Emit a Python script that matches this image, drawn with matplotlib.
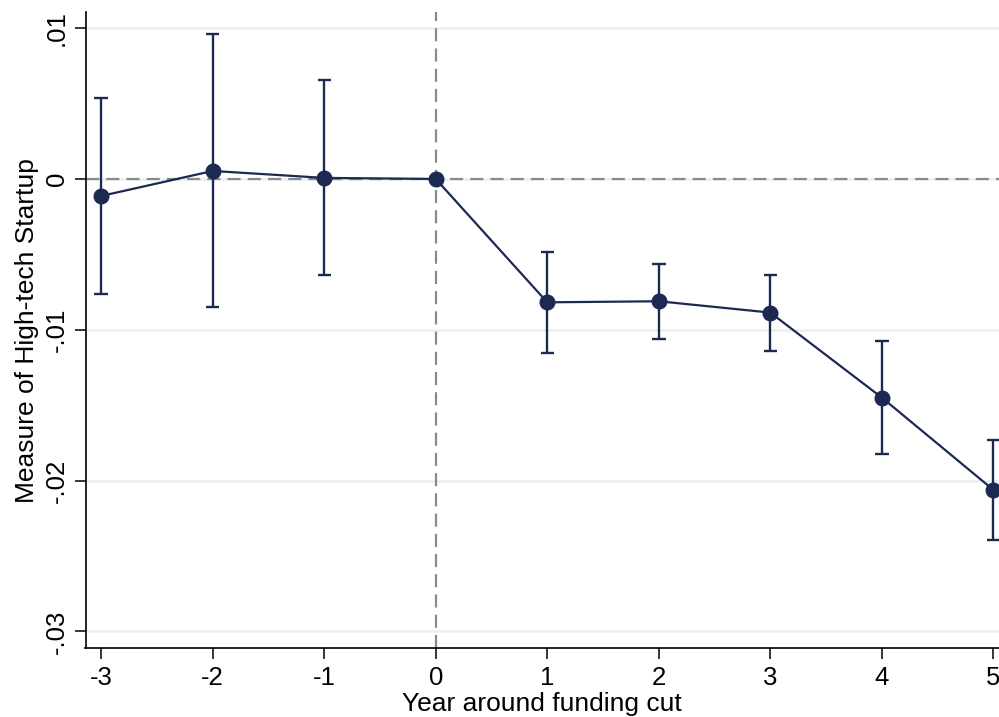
import matplotlib
matplotlib.use("Agg")
import matplotlib.pyplot as plt

years = [-3, -2, -1, 0, 1, 2, 3, 4, 5]
coef = [-0.00113, 0.00053, 0.00007, 0.0, -0.00818, -0.00811, -0.00886, -0.0145, -0.02062]
ci_hi = [0.00535, 0.00962, 0.00654, 0.0, -0.00486, -0.00564, -0.00634, -0.01074, -0.01731]
ci_lo = [-0.00761, -0.00851, -0.00637, 0.0, -0.01152, -0.01061, -0.01138, -0.01826, -0.02396]
yticks = [0.01, 0.0, -0.01, -0.02, -0.03]
ytick_labels = [".01", "0", "-.01", "-.02", "-.03"]
xticks = [-3, -2, -1, 0, 1, 2, 3, 4, 5]

plt.rcParams['font.family'] = ['Liberation Sans', 'DejaVu Sans']

W, H = 999, 717
fig = plt.figure(figsize=(W / 100, H / 100), dpi=100)
left, right, top, bottom = 85.5, 999, 12, 648.3
ax = fig.add_axes([left / W, (H - bottom) / H, (right - left) / W, (bottom - top) / H])

navy = '#1c2a52'
for y in yticks:
    ax.axhline(y, color='#e8f0f1', lw=1.8, zorder=0)
ax.axhline(0, color='#8a8a8a', lw=1.6, ls=(0, (5.9, 3.2)), zorder=1)
ax.axvline(0, color='#8a8a8a', lw=1.6, ls=(0, (5.9, 3.2)), zorder=1)

# confidence intervals (skip the reference year with zero width)
for x, lo, hi in zip(years, ci_lo, ci_hi):
    if hi != lo:
        ax.vlines(x, lo, hi, color=navy, lw=1.7, zorder=2)
        ax.hlines([lo, hi], x - 0.06, x + 0.06, color=navy, lw=1.7, zorder=2)

ax.plot(years, coef, color=navy, lw=1.6, marker='o', markersize=10.5, zorder=3, clip_on=True)

ax.set_xlim(-3.14, 5.05)
ax.set_ylim(-0.03112, 0.01107)
ax.set_xticks(xticks)
ax.set_xticklabels([str(v) for v in xticks])
ax.set_yticks(yticks)
ax.set_yticklabels(ytick_labels, rotation=90, va='center')

for s in ['top', 'right']:
    ax.spines[s].set_visible(False)
for s in ['left', 'bottom']:
    ax.spines[s].set_linewidth(1.2)
    ax.spines[s].set_color('black')

ax.tick_params(axis='both', length=8, width=1.1, labelsize=18.5, color='black')
ax.tick_params(axis='x', pad=5)
ax.tick_params(axis='y', pad=4)

ax.set_xlabel('Year around funding cut', fontsize=19, labelpad=1)
ax.set_ylabel('Measure of High-tech Startup', fontsize=19, labelpad=4)

fig.savefig('out.png', dpi=100)
